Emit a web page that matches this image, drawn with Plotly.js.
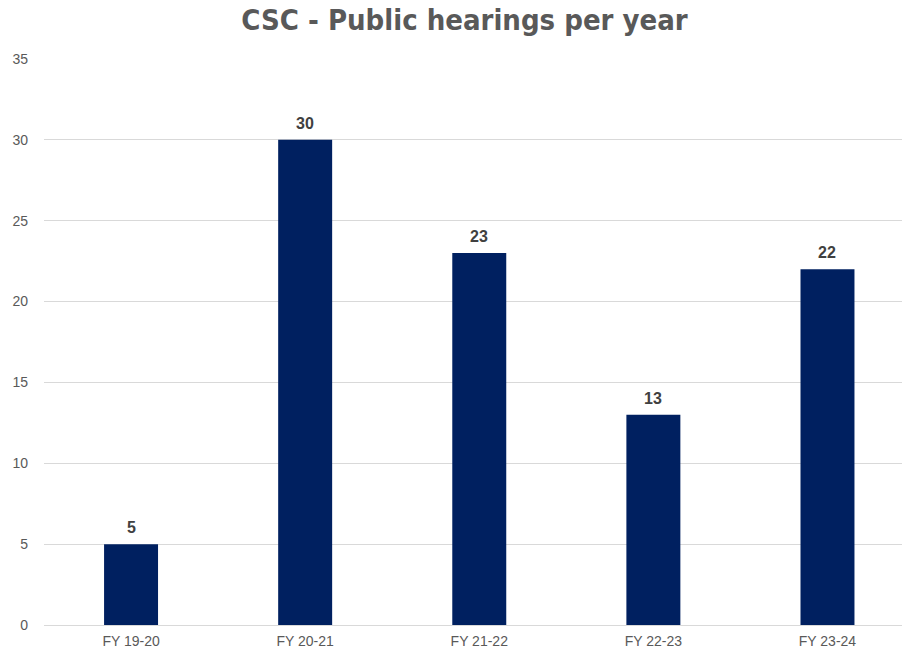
<!DOCTYPE html>
<html><head><meta charset="utf-8">
<script src="https://cdn.plot.ly/plotly-3.0.1.min.js"></script>
<style>html,body{margin:0;padding:0;background:#fff}#chart{width:902px;height:653px}</style>
</head><body><div id="chart"></div>
<script>
const categories = ["FY 19-20", "FY 20-21", "FY 21-22", "FY 22-23", "FY 23-24"];
const hearings = [5, 30, 23, 13, 22];
const yTicks = [0, 5, 10, 15, 20, 25, 30, 35];

const trace = {
  type: "bar",
  x: categories,
  y: hearings,
  width: 0.31,
  marker: {color: "#002060", line: {width: 0}},
  hoverinfo: "skip"
};

const labels = categories.map((c, i) => ({
  x: c, y: hearings[i], xref: "x", yref: "y",
  text: "<b>" + hearings[i] + "</b>",
  showarrow: false, yanchor: "bottom", yshift: 6,
  font: {family: "Liberation Sans, Arial, sans-serif", size: 16, color: "#404040"}
}));

const layout = {
  width: 902, height: 653,
  margin: {l: 44, r: 0, t: 59, b: 28},
  paper_bgcolor: "#fff", plot_bgcolor: "#fff",
  showlegend: false,
  annotations: labels,
  title: {
    text: "<b>CSC - Public hearings per year</b>",
    font: {family: "DejaVu Sans Condensed, Liberation Sans Narrow, Arial, sans-serif", size: 29, color: "#595959"},
    x: 0.515, xanchor: "center", y: 0.969, yanchor: "middle"
  },
  xaxis: {
    type: "category",
    range: [-0.5, 4.428],
    showgrid: false, zeroline: false, showline: false,
    ticks: "",
    ticklabelstandoff: 6,
    tickfont: {family: "Liberation Sans, Arial, sans-serif", size: 14, color: "#595959"},
    automargin: false
  },
  yaxis: {
    range: [0, 35],
    tickvals: yTicks,
    ticktext: yTicks.map(String),
    showgrid: true, gridcolor: "#d9d9d9", gridwidth: 1,
    zeroline: true, zerolinecolor: "#d9d9d9", zerolinewidth: 1,
    showline: false, ticks: "",
    ticklabelstandoff: 15,
    tickfont: {family: "Liberation Sans, Arial, sans-serif", size: 14, color: "#595959"},
    automargin: false
  }
};

Plotly.newPlot("chart", [trace], layout, {displayModeBar: false, staticPlot: true});
</script></body></html>
